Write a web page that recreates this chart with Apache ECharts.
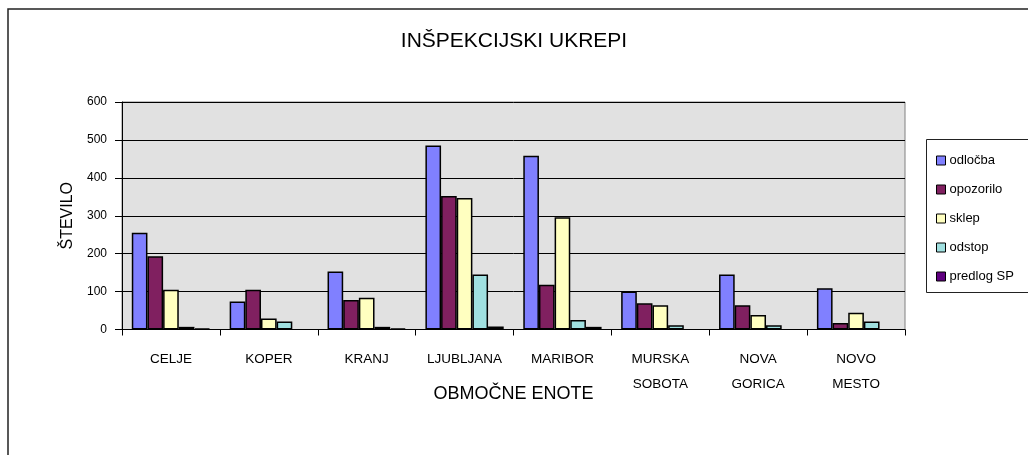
<!DOCTYPE html>
<html><head><meta charset="utf-8">
<script src="https://cdn.jsdelivr.net/npm/echarts@6/dist/echarts.min.js"></script>
<style>html,body{margin:0;padding:0;background:#fff}#c{width:1028px;height:455px}</style>
</head><body><div id="c"></div>
<script>
const categories = ['CELJE','KOPER','KRANJ','LJUBLJANA','MARIBOR','MURSKA\nSOBOTA','NOVA\nGORICA','NOVO\nMESTO'];
const odlocba   = [255, 74, 153, 485, 458, 100, 145, 109];
const opozorilo = [193, 105, 78, 352, 118, 69, 64, 17];
const sklep     = [105, 29, 84, 347, 296, 64, 38, 44];
const odstop    = [7, 21, 7, 145, 25, 11, 11, 21];
const predlogSP = [3, null, 3, 8, 7, null, null, null];
const seriesNames = ['odločba','opozorilo','sklep','odstop','predlog SP'];
const seriesData = [odlocba, opozorilo, sklep, odstop, predlogSP];
const colors = ['#8080FF','#802060','#FFFFC0','#A0E0E0','#600080'];
const yTicks = [0, 100, 200, 300, 400, 500, 600];

const font = 'Liberation Sans, Arial, sans-serif';
const chart = echarts.init(document.getElementById('c'), null, {renderer:'canvas'});
chart.setOption({
  animation: false,
  backgroundColor: '#fff',
  title: {
    text: 'INŠPEKCIJSKI UKREPI', left: 'center', top: 26,
    textStyle: {fontFamily: font, fontSize: 21, fontWeight: 'normal', color: '#000'}
  },
  graphic: [
    {type:'rect', shape:{x:8, y:9, width:1100, height:500}, style:{fill:'none', stroke:'#222', lineWidth:1.5}, z:-1},
    {type:'rect', shape:{x:926.5, y:139.5, width:200, height:153}, style:{fill:'#fff', stroke:'#222', lineWidth:1}, z:0}
  ],
  legend: {
    orient: 'vertical', left: 931, top: 149, itemGap: 16,
    itemWidth: 9, itemHeight: 9, icon: 'rect',
    data: seriesNames,
    textStyle: {fontFamily: font, fontSize: 13, color: '#000', padding: [0,0,0,-1]},
    itemStyle: {borderColor: '#000', borderWidth: 1},
    z: 5
  },
  grid: {
    left: 122, top: 102, right: 123, bottom: 125.5,
    show: true, backgroundColor: '#E1E1E1', borderColor: '#808080', borderWidth: 1
  },
  xAxis: {
    type: 'category', data: categories,
    name: 'OBMOČNE ENOTE', nameLocation: 'middle', nameGap: 56, nameMoveOverlap: false,
    nameTextStyle: {fontFamily: font, fontSize: 18, color: '#000'},
    axisLine: {lineStyle: {color: '#000', width: 1}},
    axisTick: {show: true, length: 6, lineStyle: {color: '#000'}},
    axisLabel: {fontFamily: font, fontSize: 13.5, color: '#000', margin: 17, lineHeight: 25, interval: 0}
  },
  yAxis: {
    type: 'value', min: yTicks[0], max: yTicks[yTicks.length-1], interval: 100,
    name: 'ŠTEVILO', nameLocation: 'middle', nameGap: 46, nameRotate: 90, nameMoveOverlap: false,
    nameTextStyle: {fontFamily: font, fontSize: 16, color: '#000'},
    axisLine: {show: true, lineStyle: {color: '#000', width: 1}},
    axisTick: {show: true, length: 7, lineStyle: {color: '#000'}},
    axisLabel: {fontFamily: font, fontSize: 12, color: '#000', margin: 15},
    splitLine: {show: true, lineStyle: {color: '#000', width: 1}}
  },
  series: seriesData.map((d, i) => ({
    name: seriesNames[i], type: 'bar', data: d,
    barGap: '0%', barCategoryGap: '20%',
    itemStyle: {color: colors[i], borderColor: '#000', borderWidth: 1.5}
  }))
});
</script></body></html>
